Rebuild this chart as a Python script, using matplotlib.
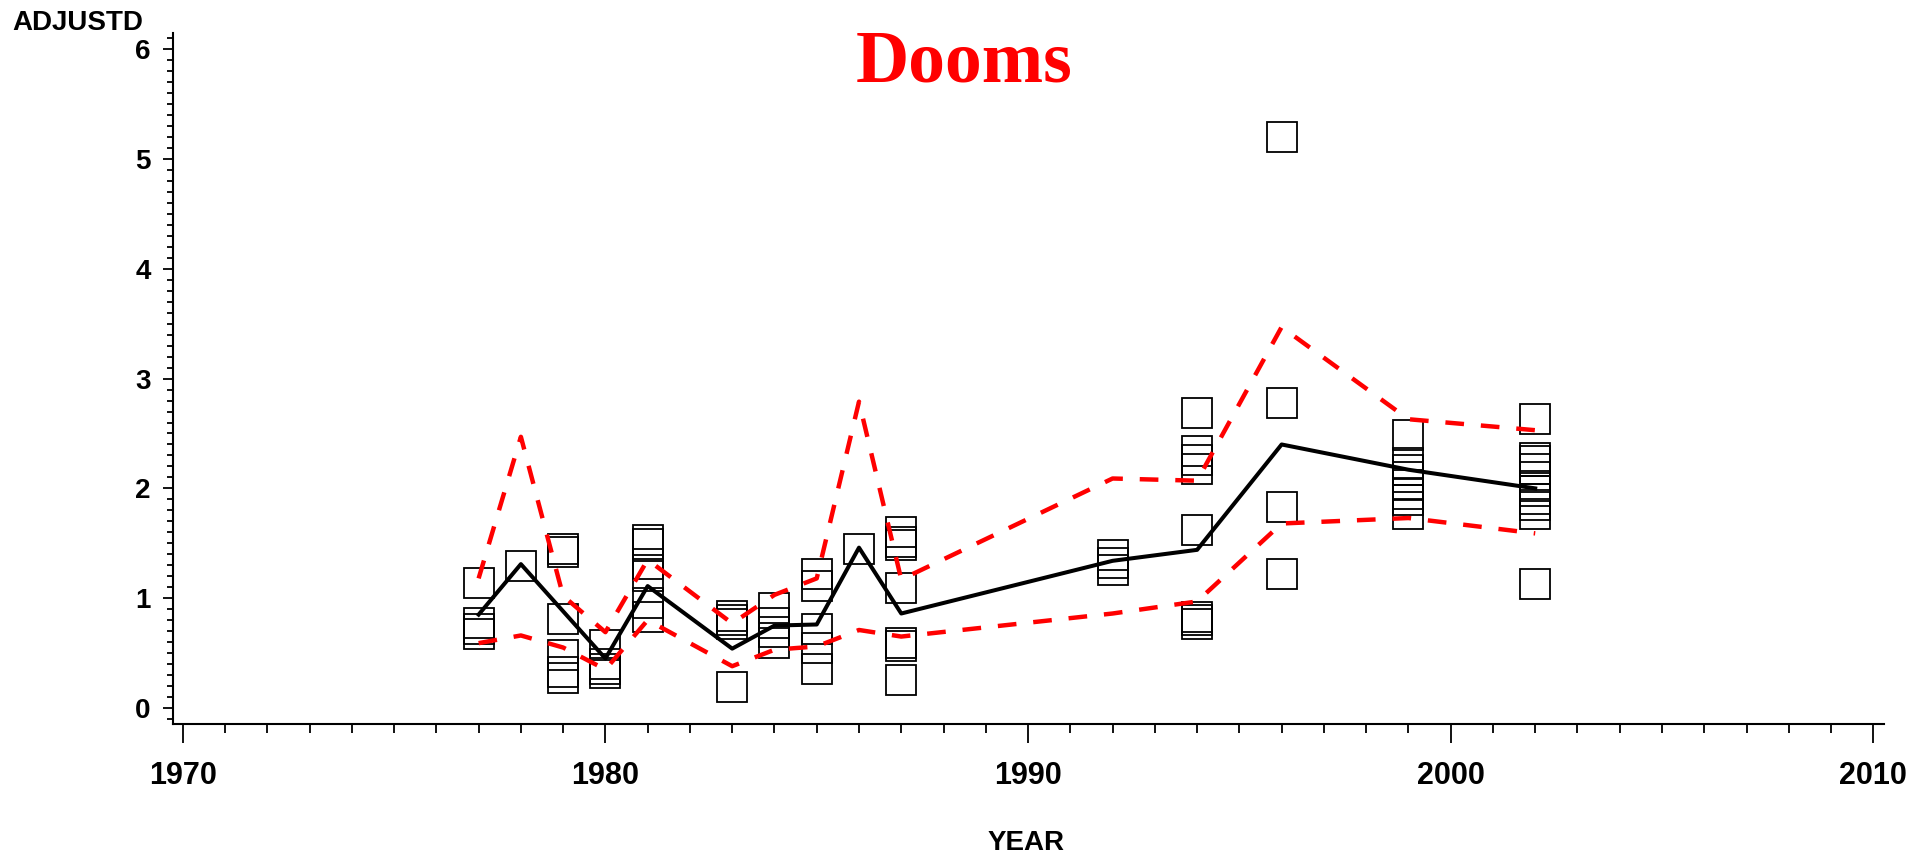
import matplotlib
matplotlib.use("Agg")
import matplotlib.pyplot as plt
from matplotlib.ticker import MultipleLocator

# Observed values per sampling year
pt_1977 = [1.14, 0.77, 0.72, 0.67]
pt_1978 = [1.29]
pt_1979 = [1.45, 1.42, 0.81, 0.48, 0.33, 0.27]
pt_1980 = [0.57, 0.40, 0.35, 0.32]
pt_1981 = [1.53, 1.49, 1.31, 1.20, 0.96, 0.83]
pt_1983 = [0.84, 0.80, 0.76, 0.19]
pt_1984 = [0.91, 0.77, 0.69, 0.59]
pt_1985 = [1.22, 1.11, 0.72, 0.55, 0.35]
pt_1986 = [1.45]
pt_1987 = [1.60, 1.51, 1.48, 1.09, 0.59, 0.56, 0.25]
pt_1992 = [1.39, 1.32, 1.26]
pt_1994 = [2.69, 2.34, 2.26, 2.18, 1.62, 0.83, 0.80, 0.76]
pt_1996 = [5.20, 2.78, 1.83, 1.22]
pt_1999 = [2.49, 2.23, 2.17, 2.10, 2.03, 1.95, 1.89, 1.77]
pt_2002 = [2.63, 2.28, 2.25, 2.18, 2.10, 2.02, 1.98, 1.90, 1.85, 1.77, 1.13]

# Yearly mean and band
years = [1977, 1978, 1979, 1980, 1981, 1983, 1984, 1985, 1986, 1987,
         1992, 1994, 1996, 1999, 2002]
mean = [0.85, 1.31, 0.88, 0.45, 1.11, 0.54, 0.75, 0.76, 1.46, 0.86,
        1.34, 1.44, 2.40, 2.17, 2.00]
upper = [1.18, 2.47, 1.02, 0.69, 1.35, 0.77, 1.03, 1.18, 2.79, 1.17,
         2.09, 2.07, 3.47, 2.63, 2.53]
lower = [0.59, 0.66, 0.55, 0.35, 0.80, 0.38, 0.53, 0.56, 0.71, 0.65,
         0.86, 0.97, 1.68, 1.73, 1.59]

pts = [pt_1977, pt_1978, pt_1979, pt_1980, pt_1981, pt_1983, pt_1984, pt_1985,
       pt_1986, pt_1987, pt_1992, pt_1994, pt_1996, pt_1999, pt_2002]
px, py = [], []
for yr, vals in zip(years, pts):
    px += [yr] * len(vals)
    py += vals

font = "Liberation Sans"

fig = plt.figure(figsize=(19.31, 8.56), dpi=100)
ax = fig.add_axes([0.0894, 0.1539, 0.8862, 0.8072])

ax.plot(px, py, linestyle="none", marker="s", markersize=22, markerfacecolor="none",
        markeredgecolor="black", markeredgewidth=1.3, zorder=2)
band_style = (0, (4.2, 3.8))
ax.plot(years, upper, color="red", lw=3.2, linestyle=band_style, zorder=3)
ax.plot(years, lower, color="red", lw=3.2, linestyle=band_style, zorder=3)
ax.plot(years, mean, color="black", lw=2.9, zorder=4)

ax.set_xlim(1969.76, 2010.25)
ax.set_ylim(-0.149, 6.146)

ax.spines["top"].set_visible(False)
ax.spines["right"].set_visible(False)
ax.spines["left"].set_linewidth(1.5)
ax.spines["bottom"].set_linewidth(1.5)

ax.xaxis.set_major_locator(MultipleLocator(10))
ax.xaxis.set_minor_locator(MultipleLocator(1))
ax.yaxis.set_major_locator(MultipleLocator(1))
ax.yaxis.set_minor_locator(MultipleLocator(0.1))

ax.tick_params(axis="x", which="major", direction="out", length=13.7, width=1.3, pad=12.5)
ax.tick_params(axis="x", which="minor", direction="out", length=6.5, width=1.3)
ax.tick_params(axis="y", which="major", direction="out", length=7.2, width=1.3, pad=8.5)
ax.tick_params(axis="y", which="minor", direction="out", length=4.3, width=1.3)

for lab in ax.get_xticklabels():
    lab.set_fontfamily(font)
    lab.set_fontweight("bold")
    lab.set_fontsize(22)
for lab in ax.get_yticklabels():
    lab.set_fontfamily(font)
    lab.set_fontweight("bold")
    lab.set_fontsize(20)

fig.text(0.4992, 0.9046, "Dooms", color="red", fontsize=53, fontweight="bold",
         family="Liberation Serif", ha="center", va="baseline")
fig.text(12 / 1931, 1 - 30 / 856, "ADJUSTD", fontsize=20, fontweight="bold",
         family=font, ha="left", va="baseline")
fig.text(1026 / 1931, 1 - 850 / 856, "YEAR", fontsize=20, fontweight="bold",
         family=font, ha="center", va="baseline")

fig.savefig("out.png", dpi=100)
